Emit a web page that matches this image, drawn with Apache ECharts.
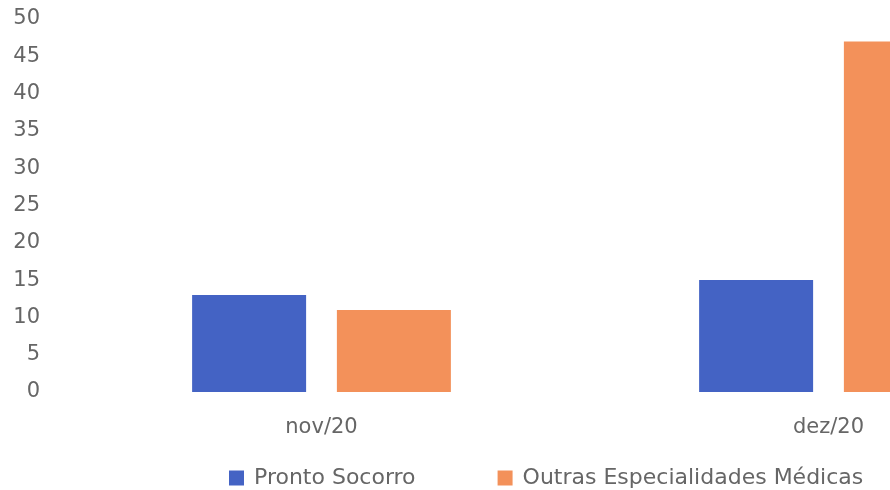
<!DOCTYPE html>
<html>
<head>
<meta charset="utf-8">
<script src="https://cdn.jsdelivr.net/npm/echarts@6/dist/echarts.min.js"></script>
<style>html,body{margin:0;padding:0;background:#fff;}#c{width:890px;height:490px;}</style>
</head>
<body>
<div id="c"></div>
<script>
const categories = ['nov/20', 'dez/20'];
const prontoSocorro = [13, 15];
const outrasEspecialidades = [11, 47];
const seriesNames = ['Pronto Socorro', 'Outras Especialidades Médicas'];

const chart = echarts.init(document.getElementById('c'));
const font = 'DejaVu Sans';
chart.setOption({
  animation: false,
  backgroundColor: '#ffffff',
  grid: { left: 68, top: 19, width: 1014, height: 373, containLabel: false, outerBoundsMode: 'none' },
  legend: {
    left: 224, top: 462,
    itemWidth: 15, itemHeight: 15, itemGap: 82,
    icon: 'rect',
    textStyle: { fontFamily: font, fontSize: 22, color: '#666666', padding: [0, 0, 0, 5] },
    data: seriesNames
  },
  xAxis: {
    type: 'category',
    data: categories,
    axisLine: { show: false },
    axisTick: { show: false },
    axisLabel: { fontFamily: font, fontSize: 21, color: '#666666', margin: 25 }
  },
  yAxis: {
    type: 'value',
    min: 0, max: 50, interval: 5,
    axisLine: { show: false },
    axisTick: { show: false },
    splitLine: { show: false },
    axisLabel: { fontFamily: font, fontSize: 21, color: '#666666', margin: 28 }
  },
  series: [
    { name: seriesNames[0], type: 'bar', data: prontoSocorro, barWidth: 114, barGap: '27%',
      itemStyle: { color: '#4463c4' } },
    { name: seriesNames[1], type: 'bar', data: outrasEspecialidades, barWidth: 114,
      itemStyle: { color: '#f3915a' } }
  ]
});
</script>
</body>
</html>
